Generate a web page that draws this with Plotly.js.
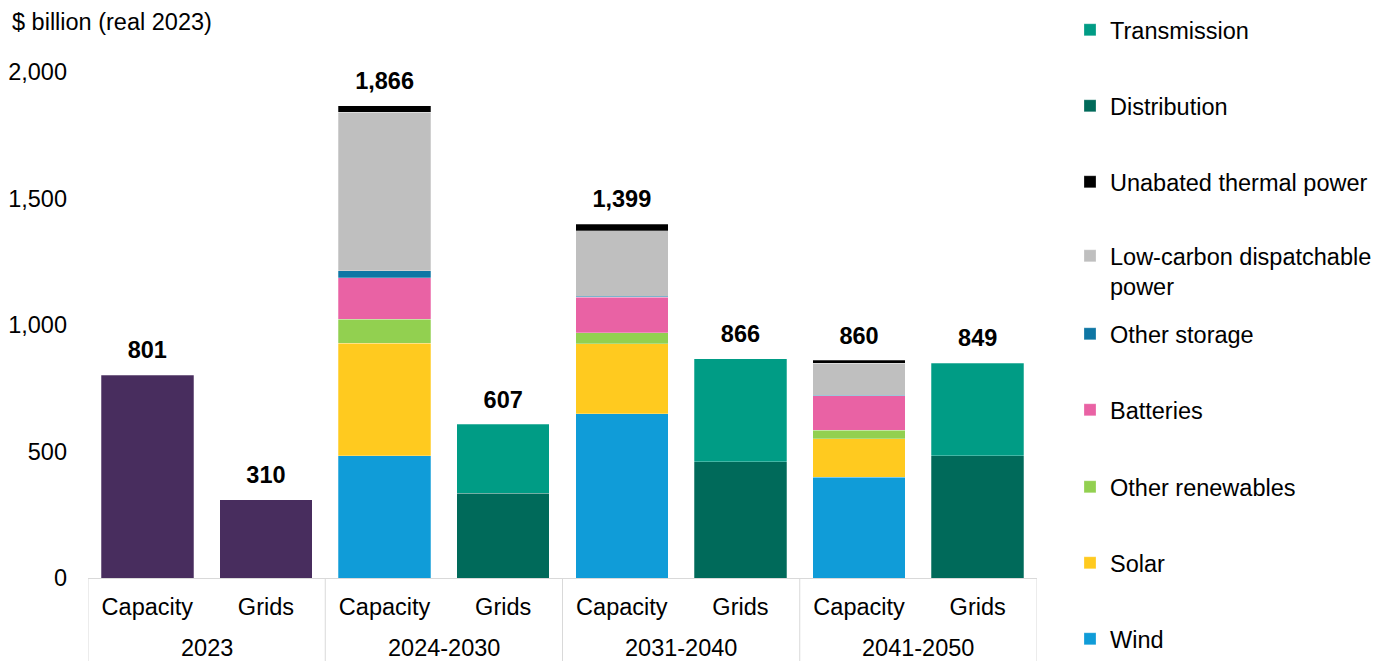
<!DOCTYPE html>
<html>
<head>
<meta charset="utf-8">
<script src="https://cdn.plot.ly/plotly-3.0.1.min.js"></script>
<style>
  html, body { margin: 0; padding: 0; background: #ffffff; }
  #chart { width: 1394px; height: 661px; }
</style>
</head>
<body>
<div id="chart"></div>
<script>
// Investment in power capacity and grids, $ billion (real 2023)
const periods = ['2023', '2023', '2024-2030', '2024-2030', '2031-2040', '2031-2040', '2041-2050', '2041-2050'];
const kinds = ['Capacity', 'Grids', 'Capacity', 'Grids', 'Capacity', 'Grids', 'Capacity', 'Grids'];
const periodLabels = ['2023', '2024-2030', '2031-2040', '2041-2050'];

// 2023 totals are shown as single bars
const total2023 = [801, 310, null, null, null, null, null, null];

// Capacity components
const wind = [null, null, 483, null, 650, null, 398, null];
const solar = [null, null, 445, null, 275, null, 152, null];
const otherRenewables = [null, null, 95, null, 45, null, 34, null];
const batteries = [null, null, 163, null, 140, null, 137, null];
const otherStorage = [null, null, 28, null, 3, null, 2, null];
const lowCarbonDispatchable = [null, null, 626, null, 260, null, 126, null];
const unabatedThermal = [null, null, 26, null, 26, null, 11, null];

// Grid components
const distribution = [null, null, null, 335, null, 460, null, 483];
const transmission = [null, null, null, 272, null, 406, null, 366];

const seriesNames = ['Wind', 'Solar', 'Other renewables', 'Batteries', 'Other storage',
  'Low-carbon dispatchable<br>power', 'Unabated thermal power', 'Distribution', 'Transmission'];
const seriesValues = [wind, solar, otherRenewables, batteries, otherStorage,
  lowCarbonDispatchable, unabatedThermal, distribution, transmission];
const seriesColors = ['#109cd8', '#ffca1f', '#92d050', '#e962a4', '#0e76a4',
  '#bfbfbf', '#000000', '#006a5a', '#009c85'];

const FONT = '"Liberation Sans", Arial, sans-serif';
const FS = 23.5;
const GRID_GREY = '#d9d9d9';
const BAR_EDGE = { color: 'rgba(255,255,255,0.35)', width: 0.75 };

// One unique category per bar; the tick text shows Capacity / Grids
const cats = periods.map((p, i) => p + ' ' + kinds[i]);

const traces = [];
traces.push({
  type: 'bar', x: cats, y: total2023, name: '2023',
  marker: { color: '#482d5e', line: BAR_EDGE },
  showlegend: false, hoverinfo: 'skip'
});

// Legend rows sit at fixed vertical positions on the right
const legendRowY = [639, 563, 487, 410, 334, 271.5, 182, 106, 30];
const legendLayouts = {};
seriesNames.forEach((name, i) => {
  const key = i === 0 ? 'legend' : 'legend' + (i + 1);
  traces.push({
    type: 'bar', x: cats, y: seriesValues[i], name: name,
    marker: { color: seriesColors[i], line: BAR_EDGE },
    legend: key, hoverinfo: 'skip'
  });
  legendLayouts[key] = {
    xref: 'container', yref: 'container',
    x: 1070 / 1394, xanchor: 'left',
    y: 1 - legendRowY[i] / 661, yanchor: 'middle',
    bgcolor: 'rgba(0,0,0,0)', borderwidth: 0,
    font: { family: FONT, size: FS, color: '#000000' },
    valign: 'top', itemclick: false, itemdoubleclick: false
  };
});

// Totals on top of each bar
const totals = cats.map((_, j) => {
  let s = 0;
  [total2023].concat(seriesValues).forEach(arr => { if (arr[j] != null) s += arr[j]; });
  return s;
});
traces.push({
  type: 'scatter', mode: 'markers+text', x: cats, y: totals,
  text: totals.map(v => v.toLocaleString('en-US')),
  textposition: 'top center',
  textfont: { family: FONT, size: FS, color: '#000000', weight: 'bold' },
  marker: { size: 16, color: 'rgba(0,0,0,0)' },
  showlegend: false, hoverinfo: 'skip', cliponaxis: false
});

// Period labels under each pair of bars, and dividers between the periods
const bottomDepth = 83 / 506;
const annotations = periodLabels.map((label, g) => ({
  text: label, showarrow: false,
  xref: 'x', yref: 'paper', x: 2 * g + 0.5, xanchor: 'center',
  y: -70 / 506, yanchor: 'middle',
  font: { family: FONT, size: FS, color: '#000000' }
}));
annotations.push({
  text: '$ billion (real 2023)', showarrow: false,
  xref: 'paper', yref: 'paper', x: -78 / 949, xanchor: 'left',
  y: 1 + 50 / 506, yanchor: 'middle',
  font: { family: FONT, size: FS, color: '#000000' }
});
const shapes = [0, 1, 2, 3, 4].map(g => ({
  type: 'line', xref: 'x', yref: 'paper',
  x0: 2 * g - 0.5, x1: 2 * g - 0.5, y0: 0, y1: -bottomDepth,
  line: { color: GRID_GREY, width: 1 }
}));

const layout = Object.assign({
  width: 1394, height: 661,
  margin: { l: 88, r: 357, t: 72, b: 83, pad: 0 },
  paper_bgcolor: '#ffffff', plot_bgcolor: '#ffffff',
  font: { family: FONT, size: FS, color: '#000000' },
  barmode: 'stack', bargap: 0.22,
  showlegend: true,
  xaxis: {
    type: 'category',
    range: [-0.5, cats.length - 0.5],
    tickvals: cats, ticktext: kinds,
    showline: true, linecolor: GRID_GREY, linewidth: 1,
    ticks: '', showgrid: false, zeroline: false,
    ticklabelstandoff: 8,
    tickfont: { family: FONT, size: FS, color: '#000000' }
  },
  yaxis: {
    range: [0, 2000], tickvals: [0, 500, 1000, 1500, 2000], tickformat: ',',
    showgrid: false, zeroline: false, showline: false, ticks: '',
    ticklabelstandoff: 20,
    tickfont: { family: FONT, size: FS, color: '#000000' }
  },
  annotations: annotations,
  shapes: shapes
}, legendLayouts);

Plotly.newPlot('chart', traces, layout, { displayModeBar: false, staticPlot: true });
</script>
</body>
</html>
